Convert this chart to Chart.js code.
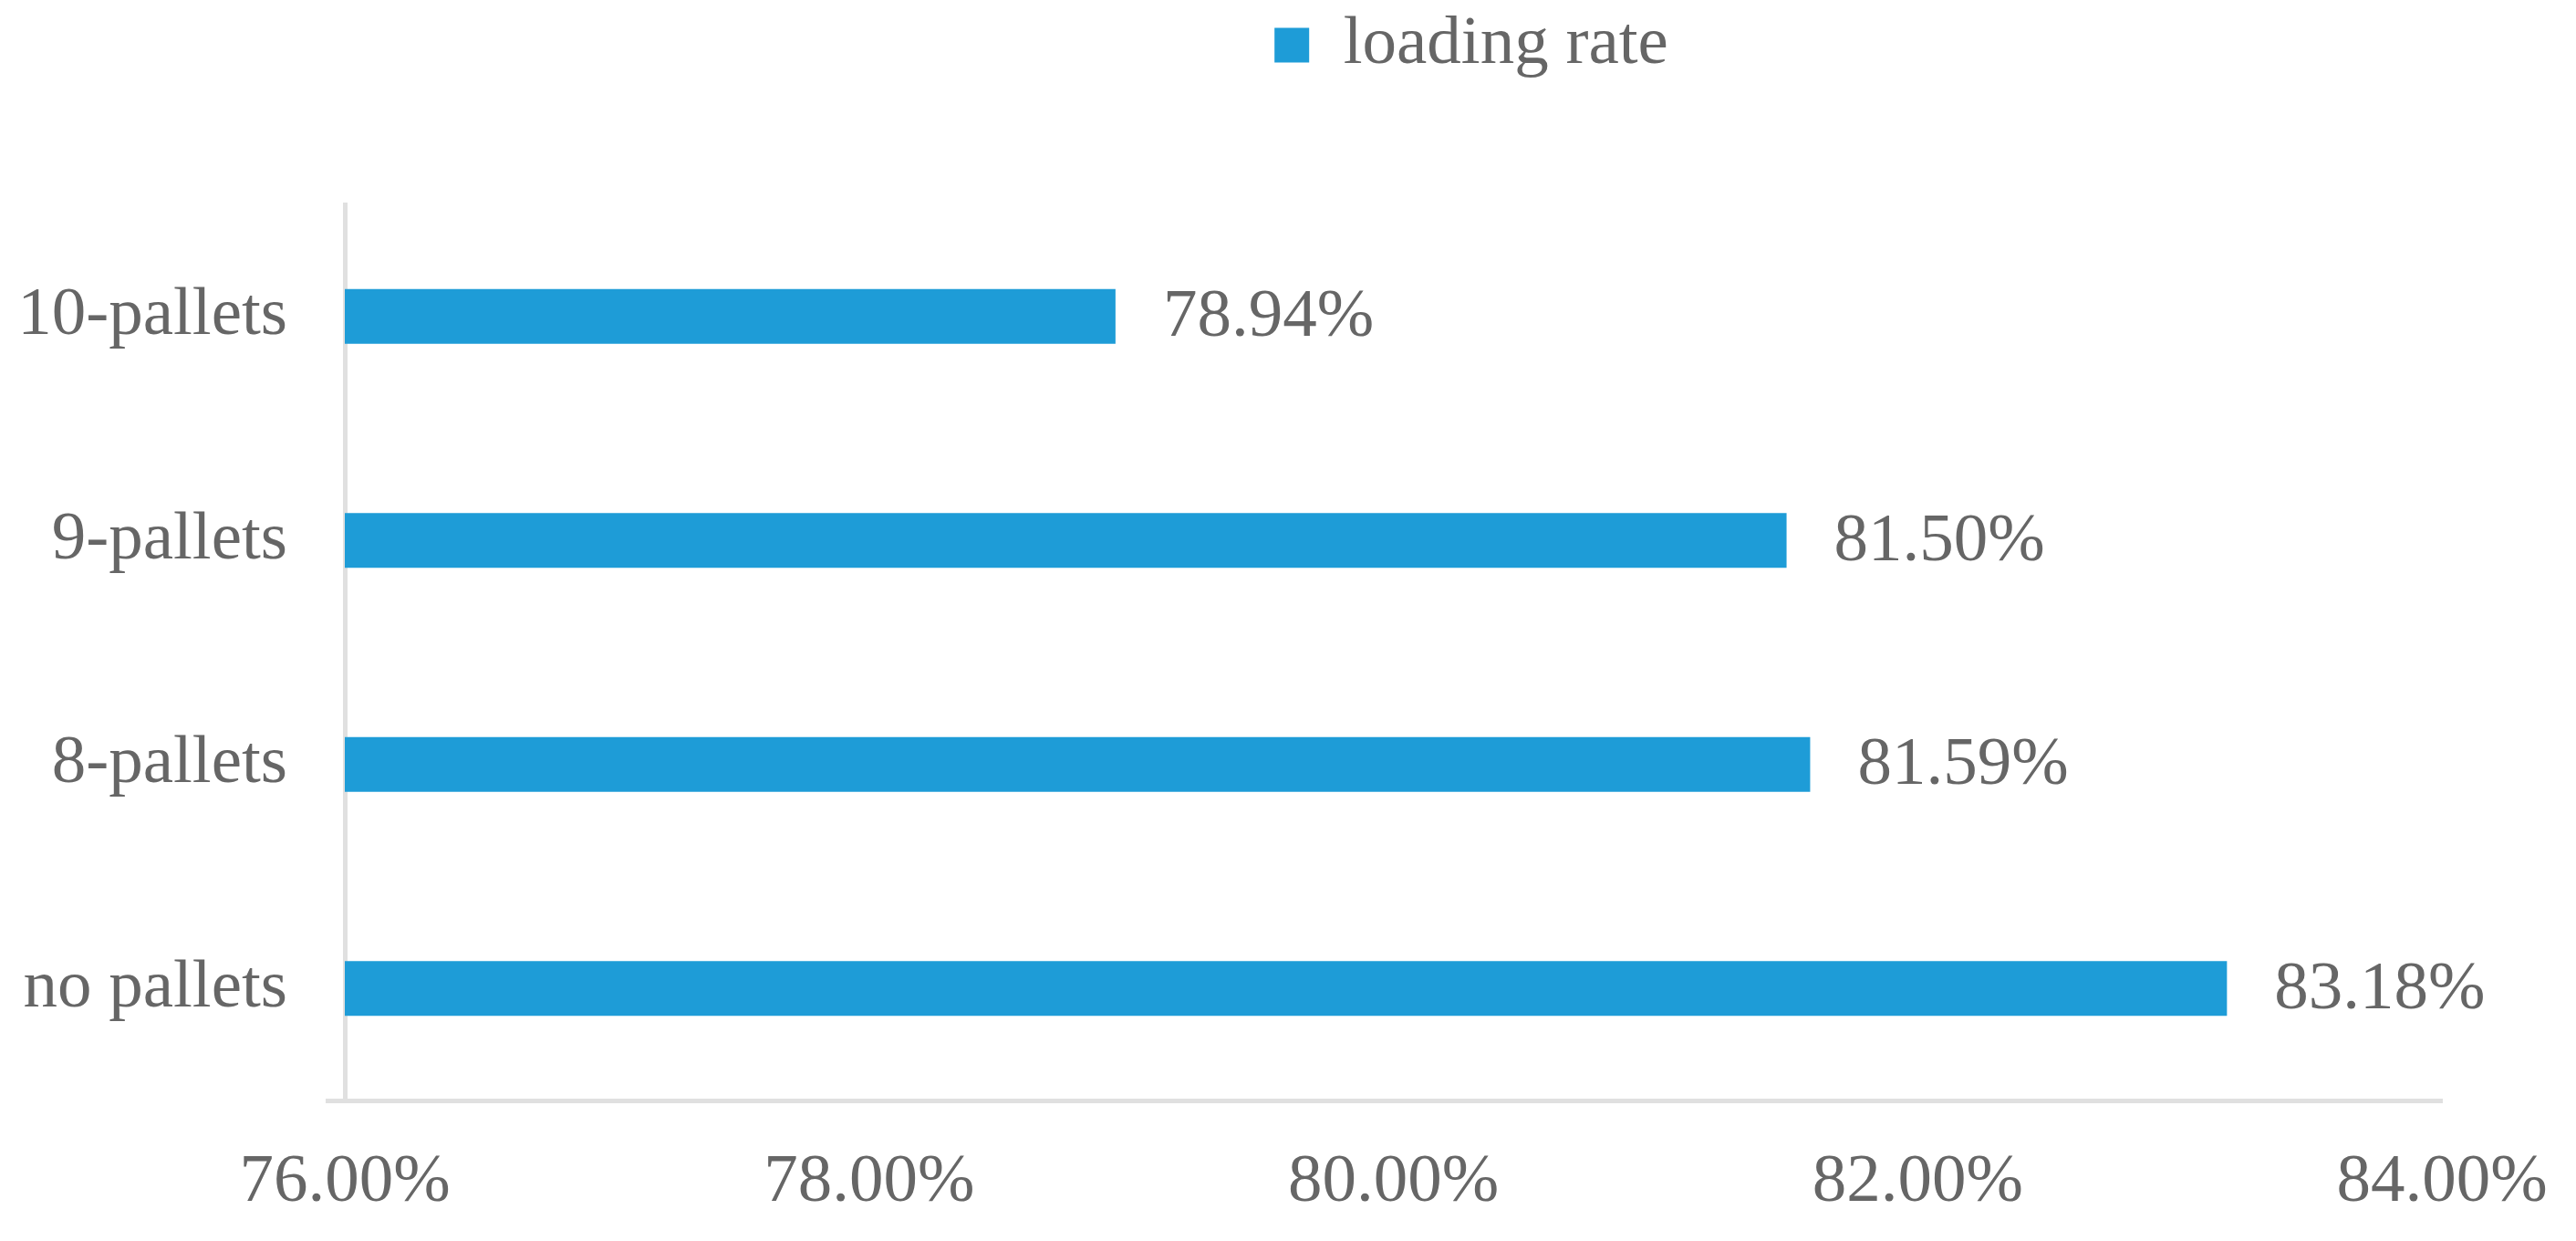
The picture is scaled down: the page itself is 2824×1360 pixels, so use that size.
<!DOCTYPE html>
<html>
<head>
<meta charset="utf-8">
<script src="https://cdn.jsdelivr.net/npm/chart.js@4"></script>
<style>
  body { margin: 0; background: #fff; }
</style>
</head>
<body>
<canvas id="loading-rate-chart" width="2824" height="1360"></canvas>
<script>
// data
const categories = ['10-pallets', '9-pallets', '8-pallets', 'no pallets'];
const loadingRate = [78.94, 81.50, 81.59, 83.18];
const xTicks = [76, 78, 80, 82, 84];

const barColor = '#1E9CD7';
const textColor = '#666666';
const axisColor = '#E0E0E0';
const fontFamily = '"Liberation Serif", "Times New Roman", serif';

// value labels to the right of each bar
const valueLabels = {
  id: 'valueLabels',
  afterDatasetsDraw(chart) {
    const ctx = chart.ctx;
    const meta = chart.getDatasetMeta(0);
    ctx.save();
    ctx.font = '75px ' + fontFamily;
    ctx.fillStyle = textColor;
    ctx.textAlign = 'left';
    ctx.textBaseline = 'middle';
    meta.data.forEach((bar, i) => {
      ctx.fillText(loadingRate[i].toFixed(2) + '%', bar.x + 52, bar.y + 2);
    });
    ctx.restore();
  }
};

// more room under the legend, and legend sits a bit right of centre like the original
const legendSpacing = {
  id: 'legendSpacing',
  beforeInit(chart) {
    const fit = chart.legend.fit;
    chart.legend.fit = function () {
      fit.call(this);
      this.height += 127;
    };
  },
  afterLayout(chart) {
    chart.legend.left += 262;
    chart.legend.right += 262;
  }
};

const chart = new Chart(document.getElementById('loading-rate-chart'), {
  type: 'bar',
  data: {
    labels: categories,
    datasets: [{
      label: 'loading rate',
      data: loadingRate,
      backgroundColor: barColor,
      borderWidth: 0,
      barPercentage: 0.245,
      categoryPercentage: 1
    }]
  },
  options: {
    indexAxis: 'y',
    responsive: false,
    animation: false,
    layout: {
      padding: { left: 25, right: 147, top: 0, bottom: 20 }
    },
    plugins: {
      legend: {
        position: 'top',
        labels: {
          color: textColor,
          font: { family: fontFamily, size: 75 },
          boxWidth: 38,
          boxHeight: 38,
          padding: 12
        }
      },
      tooltip: { enabled: false }
    },
    scales: {
      x: {
        min: 76,
        max: 84,
        afterBuildTicks(scale) {
          scale.ticks = xTicks.map(v => ({ value: v }));
        },
        afterFit(scale) {
          scale.height = 134;
          scale.paddingLeft = 0;
          scale.paddingRight = 0;
        },
        grid: { display: false, drawTicks: false },
        border: { display: true, color: axisColor, width: 5 },
        ticks: {
          color: textColor,
          font: { family: fontFamily, size: 75 },
          padding: 45,
          maxRotation: 0,
          callback: v => v.toFixed(2) + '%'
        }
      },
      y: {
        afterFit(scale) {
          scale.width = 353;
        },
        grid: {
          display: true,
          drawOnChartArea: false,
          drawTicks: true,
          tickLength: 21,
          lineWidth: 5,
          color: c => (c.type === 'scale' ? axisColor : 'rgba(0,0,0,0)')
        },
        border: { display: true, color: axisColor, width: 5 },
        ticks: {
          color: textColor,
          font: { family: fontFamily, size: 75 },
          padding: 42
        }
      }
    }
  },
  plugins: [valueLabels, legendSpacing]
});
</script>
</body>
</html>
